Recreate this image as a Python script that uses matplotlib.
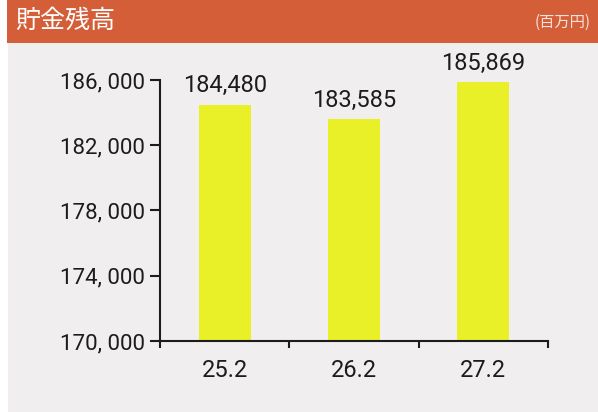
import matplotlib.pyplot as plt
from matplotlib.patches import Rectangle
from matplotlib.ticker import FixedLocator, FuncFormatter

# data
years = ['25.2', '26.2', '27.2']
savings = [184480, 183585, 185869]
yticks = [170000, 174000, 178000, 182000, 186000]

num_font = ['Roboto', 'DejaVu Sans']
jp_font = ['Noto Sans CJK JP', 'DejaVu Sans']

bg = '#f0eeef'
header = '#d45e37'
bar_color = '#eaf027'

fig = plt.figure(figsize=(5.98, 4.12), dpi=100, facecolor='white')

# background panel and header band (drawn under the axes)
fig.patches.append(Rectangle((8/598, 0), 1, 1 - 43/412, transform=fig.transFigure,
                             facecolor=bg, edgecolor='none', zorder=-2))
fig.patches.append(Rectangle((7/598, 1 - 43/412), 1, 43/412, transform=fig.transFigure,
                             facecolor=header, edgecolor='none', zorder=-2))
fig.text(15/598, 1 - 21/412, '貯金残高', color='white', fontsize=18,
         family=jp_font, va='center', ha='left')
fig.text(591/598, 1 - 22/412, '(百万円)', color='#f6e4dc', fontsize=11,
         family=jp_font, va='center', ha='right')

ax = fig.add_axes([160/598, 1 - 341/412, 388/598, 261/412])
ax.set_facecolor('none')

x = range(len(years))
bars = ax.bar(x, savings, width=0.4, color=bar_color, zorder=2)
for xi, v in zip(x, savings):
    ax.text(xi, v + 450, f'{v:,}', ha='center', va='bottom', fontsize=17,
            family=num_font, color='#1c1c1c')

ax.set_xlim(-0.5, 2.5)
ax.set_ylim(170000, 186000)

ax.set_yticks(yticks)
ax.yaxis.set_major_formatter(FuncFormatter(lambda v, p: f'{int(v):,}'.replace(',', ', ')))
ax.tick_params(axis='y', direction='out', length=7, width=1.5, pad=4,
               labelsize=16, colors='#1c1c1c')

ax.set_xticks(list(x))
ax.set_xticklabels(years)
ax.xaxis.set_minor_locator(FixedLocator([-0.5, 0.5, 1.5, 2.5]))
ax.tick_params(axis='x', which='major', length=0, pad=13, labelsize=17, colors='#1c1c1c')
ax.tick_params(axis='x', which='minor', direction='out', length=5, width=1.5, color='#1c1c1c')

for lab in ax.get_xticklabels() + ax.get_yticklabels():
    lab.set_family(num_font)

for s in ['top', 'right']:
    ax.spines[s].set_visible(False)
for s in ['left', 'bottom']:
    ax.spines[s].set_linewidth(1.5)
    ax.spines[s].set_color('#1c1c1c')

plt.savefig('out.png', dpi=100, facecolor=fig.get_facecolor())
